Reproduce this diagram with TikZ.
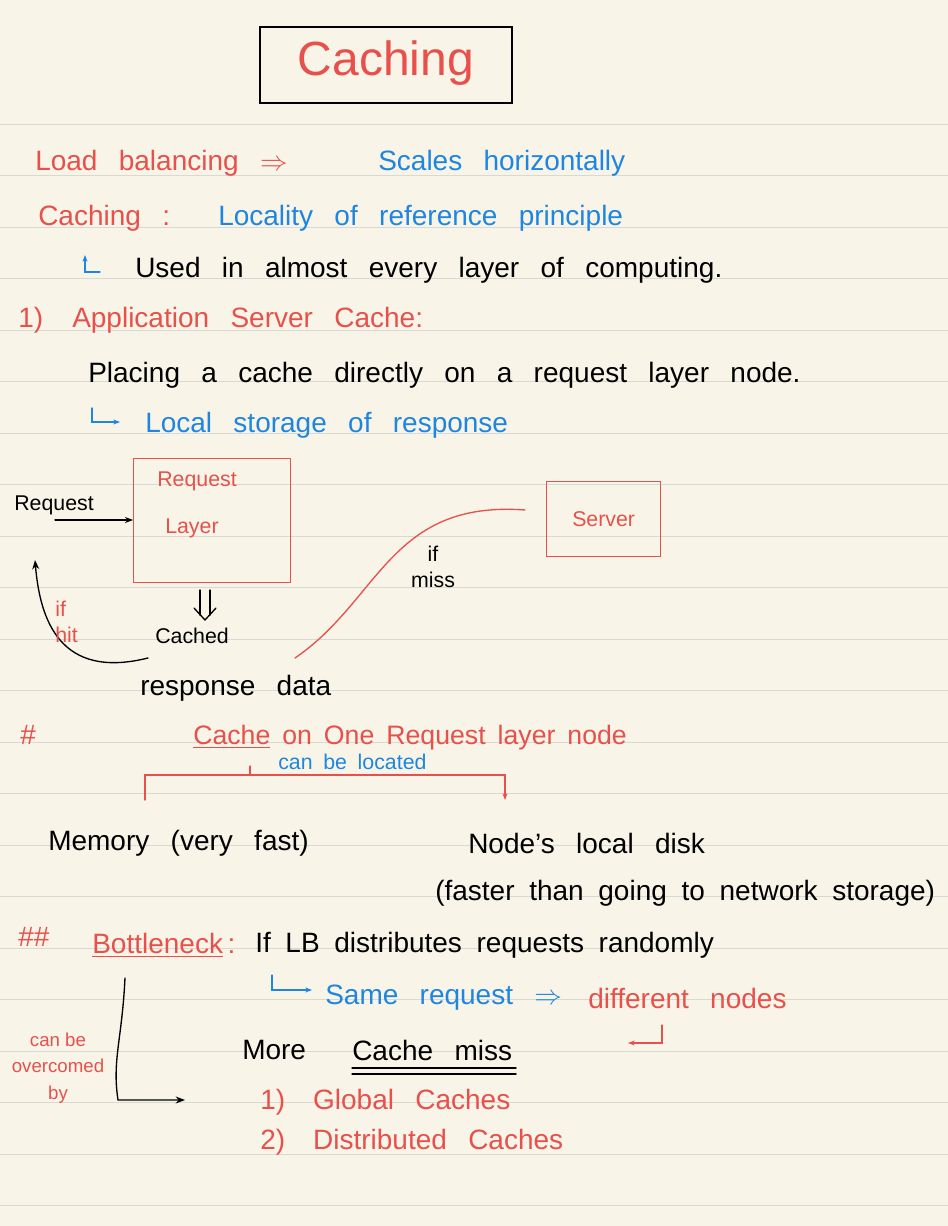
\documentclass[tikz,border=0pt]{standalone}
\usepackage{fontspec}
\setmainfont{Liberation Sans}
\usetikzlibrary{arrows.meta}
\definecolor{bg}{HTML}{F8F5E8}
\definecolor{rl}{HTML}{D9D9D4}
\definecolor{nred}{HTML}{E8504C}
\definecolor{nblue}{HTML}{1E86E0}
\newcommand\fontA{\fontsize{21}{24}\selectfont\spaceskip=16pt plus 3pt\relax}
\newcommand\fontB{\fontsize{16}{19}\selectfont\spaceskip=8pt\relax}
\newcommand\fontC{\fontsize{21}{24}\selectfont\spaceskip=11pt\relax}
\newcommand\fontD{\fontsize{20}{24}\selectfont\spaceskip=9pt\relax}
\tikzset{
 t/.style={anchor=west,inner sep=0pt,font=\fontA},
 r/.style={t,text=nred},
 b/.style={t,text=nblue},
 k/.style={t,text=black},
 sm/.style={font=\fontB},
 pen/.style={line width=1pt,line cap=round},
}
\begin{document}
\begin{tikzpicture}[x=0.75pt,y=-0.75pt]
\fill[bg] (0,0) rectangle (948,1226);
\useasboundingbox (0,0) rectangle (948,1226);
\foreach \i in {0,...,21} \draw[rl,line width=0.6pt] (0,124+51.5*\i) -- (948,124+51.5*\i);
% title
\draw[pen,black] (260,27) rectangle (512,103);
\node[text=nred,font=\fontsize{36}{40}\selectfont] (title) at (386,63) {Caching};
\node[r] (lb) at (35,163) {Load balancing $\Rightarrow$};
\node[b] (sh) at (378,163) {Scales horizontally};
\node[r] (c1) at (38,218) {Caching :};
\node[b] (loc) at (218,218) {Locality of reference principle};
\draw[pen,nblue,-{Stealth[length=5pt]}] (100,272) -- (85,272) -- (85,255);
\node[k] (used) at (135,270) {Used in almost every layer of computing.};
\node[r] (asc) at (18,320) {1)\; Application Server Cache:};
\node[k] (plc) at (88,375) {Placing a cache directly on a request layer node.};
\draw[pen,nblue,-{Stealth[length=5pt]}] (92,408) -- (92,422) -- (120,422);
\node[b] (lsr) at (145,425) {Local storage of response};
% diagram
\node[draw=nred,pen,minimum width=157pt*0.75,minimum height=124pt*0.75,anchor=north west,inner sep=0pt] (rl) at (133,458) {};
\node[r,sm] (rq) at (157,481) {Request};
\node[r,sm] (ly) at (165,528) {Layer};
\node[draw=nred,pen,minimum width=114*0.75pt,minimum height=75*0.75pt,anchor=north west,inner sep=0pt] (srv) at (546,481) {};
\node[r,sm,anchor=center] at (srv.center) {Server};
\node[k,sm] (req) at (14,505) {Request};
\draw[pen,-{Stealth[length=6pt]}] (55,520) -- (rl.west|-0,520);
\coordinate (hs) at (148,658);
\draw[pen,-{Stealth[length=7pt]}] (hs) .. controls (60,680) and (40,620) .. (35,560);
\node[r,sm,align=left] (hit) at (55,622) {if\\hit};
\draw[pen] (200,590) -- (200,615) (210,590) -- (210,615);
\draw[pen] (194,608) -- (205,620) -- (216,608);
\node[k,sm] (cch) at (155,636) {Cached};
\node[k] (rsp) at (140,688) {response data};
\draw[pen,nred] (295,658) .. controls (380,600) and (390,500) .. (525,510);
\node[k,sm,align=center,anchor=center] (miss) at (433,567) {if\\miss};
% section #
\node[r] (h1) at (20,735) {\#};
\node[r,font=\fontD] (cor) at (193,738) {\underline{Cache} on One Request layer node};
\draw[pen,nred,-{Stealth[length=5pt]}] (145,800) -- (145,775) -- (505,775) -- (505,800);
\draw[pen,nred] (250,766) -- (250,775);
\node[b,sm] (cbl) at (278,762) {can be located};
\node[k] (mem) at (48,843) {Memory (very fast)};
\node[k] (nld) at (468,843) {Node's local disk};
\node[k,font=\fontC] (fst) at (435,893) {(faster than going to network storage)};
% ##
\node[r] (h2) at (18,937) {\#\#};
\node[r] (bn) at (92,945) {\underline{Bottleneck}\,:};
\node[k,font=\fontC] (lbd) at (255,945) {If LB distributes requests randomly};
\draw[pen,nblue,-{Stealth[length=5pt]}] (272,975) -- (272,990) -- (312,990);
\node[b] (sr) at (325,998) {Same request $\Rightarrow$};
\node[r] (dn) at (588,998) {different nodes};
\draw[pen,nred,-{Stealth[length=5pt]}] (662,1025) -- (662,1043) -- (628,1043);
\draw[pen,-{Stealth[length=7pt]}] (125,978) .. controls (122,1040) and (112,1060) .. (118,1100) -- (185,1100);
\node[r,font=\fontsize{14}{20}\selectfont,align=center,anchor=center] (cbo) at (58,1068) {can be\\overcomed\\by};
\node[k] (more) at (242,1050) {More};
\node[k] (cm) at (352,1050) {Cache miss};
\draw[pen] (352,1068) -- (516,1068) (352,1074) -- (516,1074);
\node[r] (g1) at (260,1102) {1)\quad Global Caches};
\node[r] (g2) at (260,1142) {2)\quad Distributed Caches};
\end{tikzpicture}
\end{document}
